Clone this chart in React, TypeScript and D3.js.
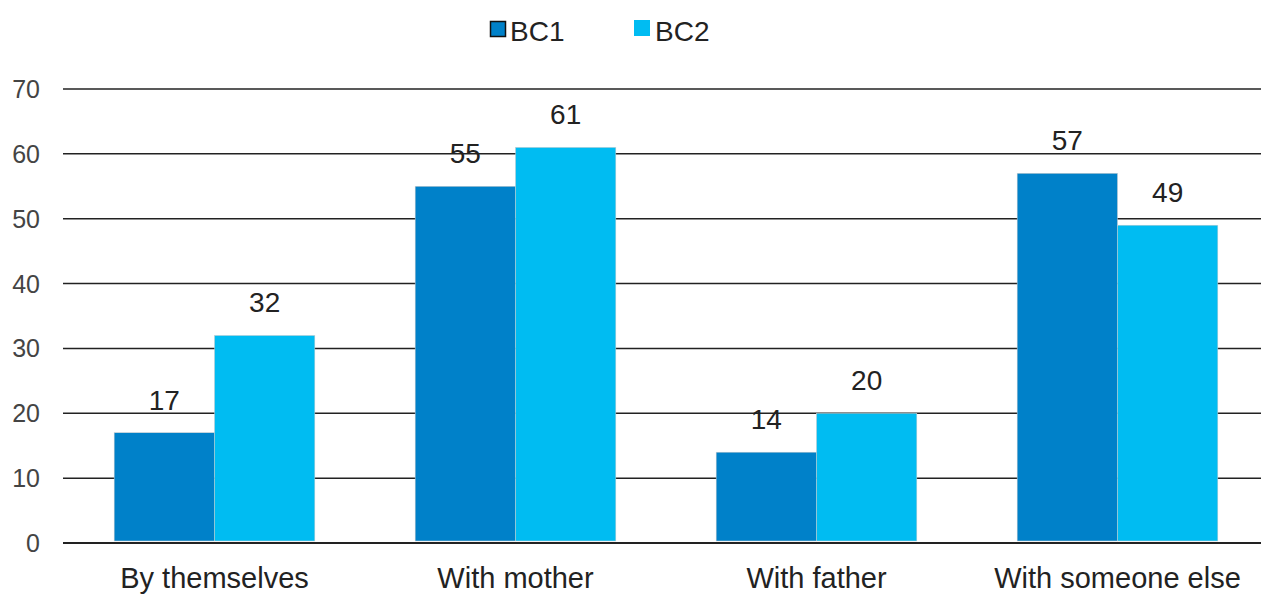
import React from "react";
import * as d3 from "d3";

const categories = ["By themselves", "With mother", "With father", "With someone else"];
const seriesNames = ["BC1", "BC2"];
const bc1 = [17, 55, 14, 57];
const bc2 = [32, 61, 20, 49];
const yTicks = [0, 10, 20, 30, 40, 50, 60, 70];
const colors = ["#0081C9", "#00BCF2"];

export default function App() {
  const W = 1261, H = 595;
  const left = 64, right = 1268, top = 89, bottom = 543;
  const x = d3.scaleBand<string>().domain(categories).range([left, right]).paddingInner(0).paddingOuter(0);
  const y = d3.scaleLinear().domain([0, 70]).range([bottom, top]);
  const barW = x.bandwidth() / 3;
  const font = "'Liberation Sans', Arial, sans-serif";
  const series = [bc1, bc2];
  return (
    <svg width={W} height={H} style={{ position: "absolute", left: 0, top: 0, background: "#fff" }} fontFamily={font}>
      {yTicks.map((t) => (
        <g key={t}>
          <line x1={left - 1} x2={W} y1={y(t)} y2={y(t)} stroke="#222" strokeWidth={t === 0 ? 2 : 1.5} />
          <text x={40} y={y(t)} dy="0.36em" textAnchor="end" fontSize={25} fill="#444">{t}</text>
        </g>
      ))}
      {categories.map((c, i) => {
        const cx = (x(c) as number) + x.bandwidth() / 2;
        return (
          <g key={c}>
            {series.map((s, j) => {
              const bx = cx - barW + j * barW;
              return (
                <g key={j}>
                  <rect x={bx} y={y(s[i])} width={barW} height={y(0) - y(s[i]) - 2} fill={colors[j]} stroke="#ccc" strokeWidth={0.5} />
                  <text x={bx + barW / 2} y={y(s[i]) - 23} textAnchor="middle" fontSize={28} fill="#222">{s[i]}</text>
                </g>
              );
            })}
            <text x={cx} y={588} textAnchor="middle" fontSize={29} fill="#222">{c}</text>
          </g>
        );
      })}
      <g>
        <rect x={490.5} y={21.5} width={15} height={15} fill={colors[0]} stroke="#111" strokeWidth={1.5} />
        <text x={510} y={41} fontSize={28} fill="#222">{seriesNames[0]}</text>
        <rect x={634} y={20} width={16} height={16} fill={colors[1]} />
        <text x={655} y={41} fontSize={28} fill="#222">{seriesNames[1]}</text>
      </g>
    </svg>
  );
}
